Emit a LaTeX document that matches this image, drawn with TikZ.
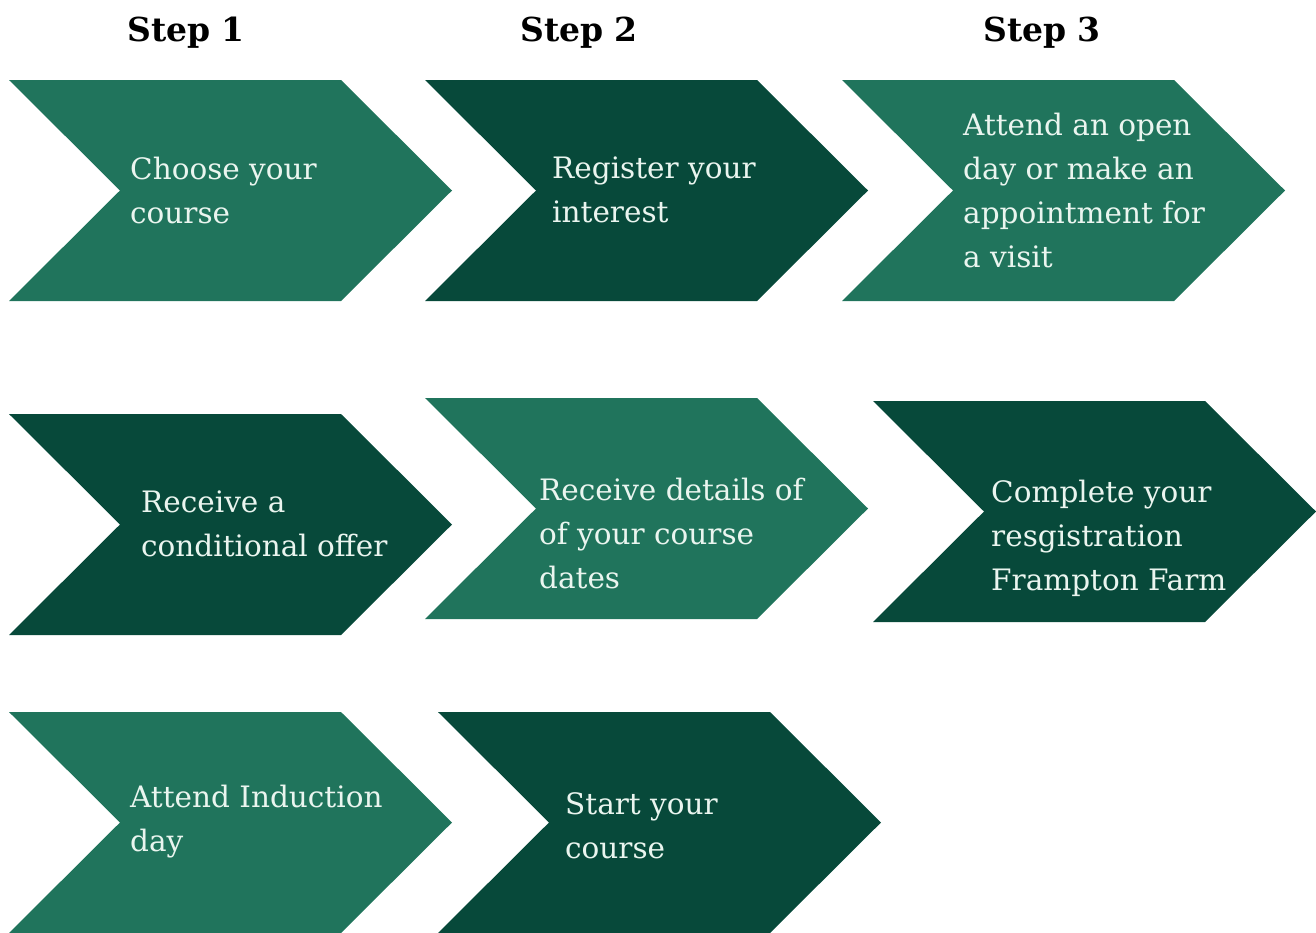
\documentclass[tikz,border=0pt]{standalone}
\usepackage{fontspec}
\setmainfont{DejaVu Serif}
\definecolor{lightg}{HTML}{20745C}
\definecolor{darkg}{HTML}{07493A}
\definecolor{txt}{HTML}{EAF5EF}
\tikzset{
  chevtext/.style={anchor=west, align=left, text=txt, inner sep=0pt,
    font=\fontsize{29.5}{44}\selectfont},
  stephead/.style={font=\fontsize{33}{40}\selectfont\bfseries, text=black, inner sep=0pt}
}
\newcommand{\chevshape}[3]{%
  \fill[#3] (#1,#2) -- ++(332,0) -- ++(111,110.5) -- ++(-111,110.5) -- ++(-332,0) -- ++(111,-110.5) -- cycle;}
\begin{document}
\begin{tikzpicture}[x=1pt,y=-1pt]
\useasboundingbox (0,0) rectangle (1316,932);
\node[stephead] (s1) at (186,33) {Step 1};
\node[stephead] (s2) at (579,33) {Step 2};
\node[stephead] (s3) at (1042,33) {Step 3};
\chevshape{9}{80}{lightg}
\chevshape{425}{80}{darkg}
\chevshape{842}{80}{lightg}
\chevshape{9}{414}{darkg}
\chevshape{425}{398}{lightg}
\chevshape{873}{401}{darkg}
\chevshape{9}{712}{lightg}
\chevshape{438}{712}{darkg}
\node[chevtext] (t1) at (130,190) {Choose your\\course};
\node[chevtext] (t2) at (552,190) {Register your\\interest};
\node[chevtext] (t3) at (963,190) {Attend an open\\day or make an\\appointment for\\a visit};
\node[chevtext] (t4) at (141,524) {Receive a\\conditional offer};
\node[chevtext] (t5) at (539,533) {Receive details of\\of your course\\dates};
\node[chevtext] (t6) at (991,538) {Complete your\\resgistration\\Frampton Farm};
\node[chevtext] (t7) at (130,822) {Attend Induction\\day};
\node[chevtext] (t8) at (565,826) {Start your\\course};
\end{tikzpicture}
\end{document}
